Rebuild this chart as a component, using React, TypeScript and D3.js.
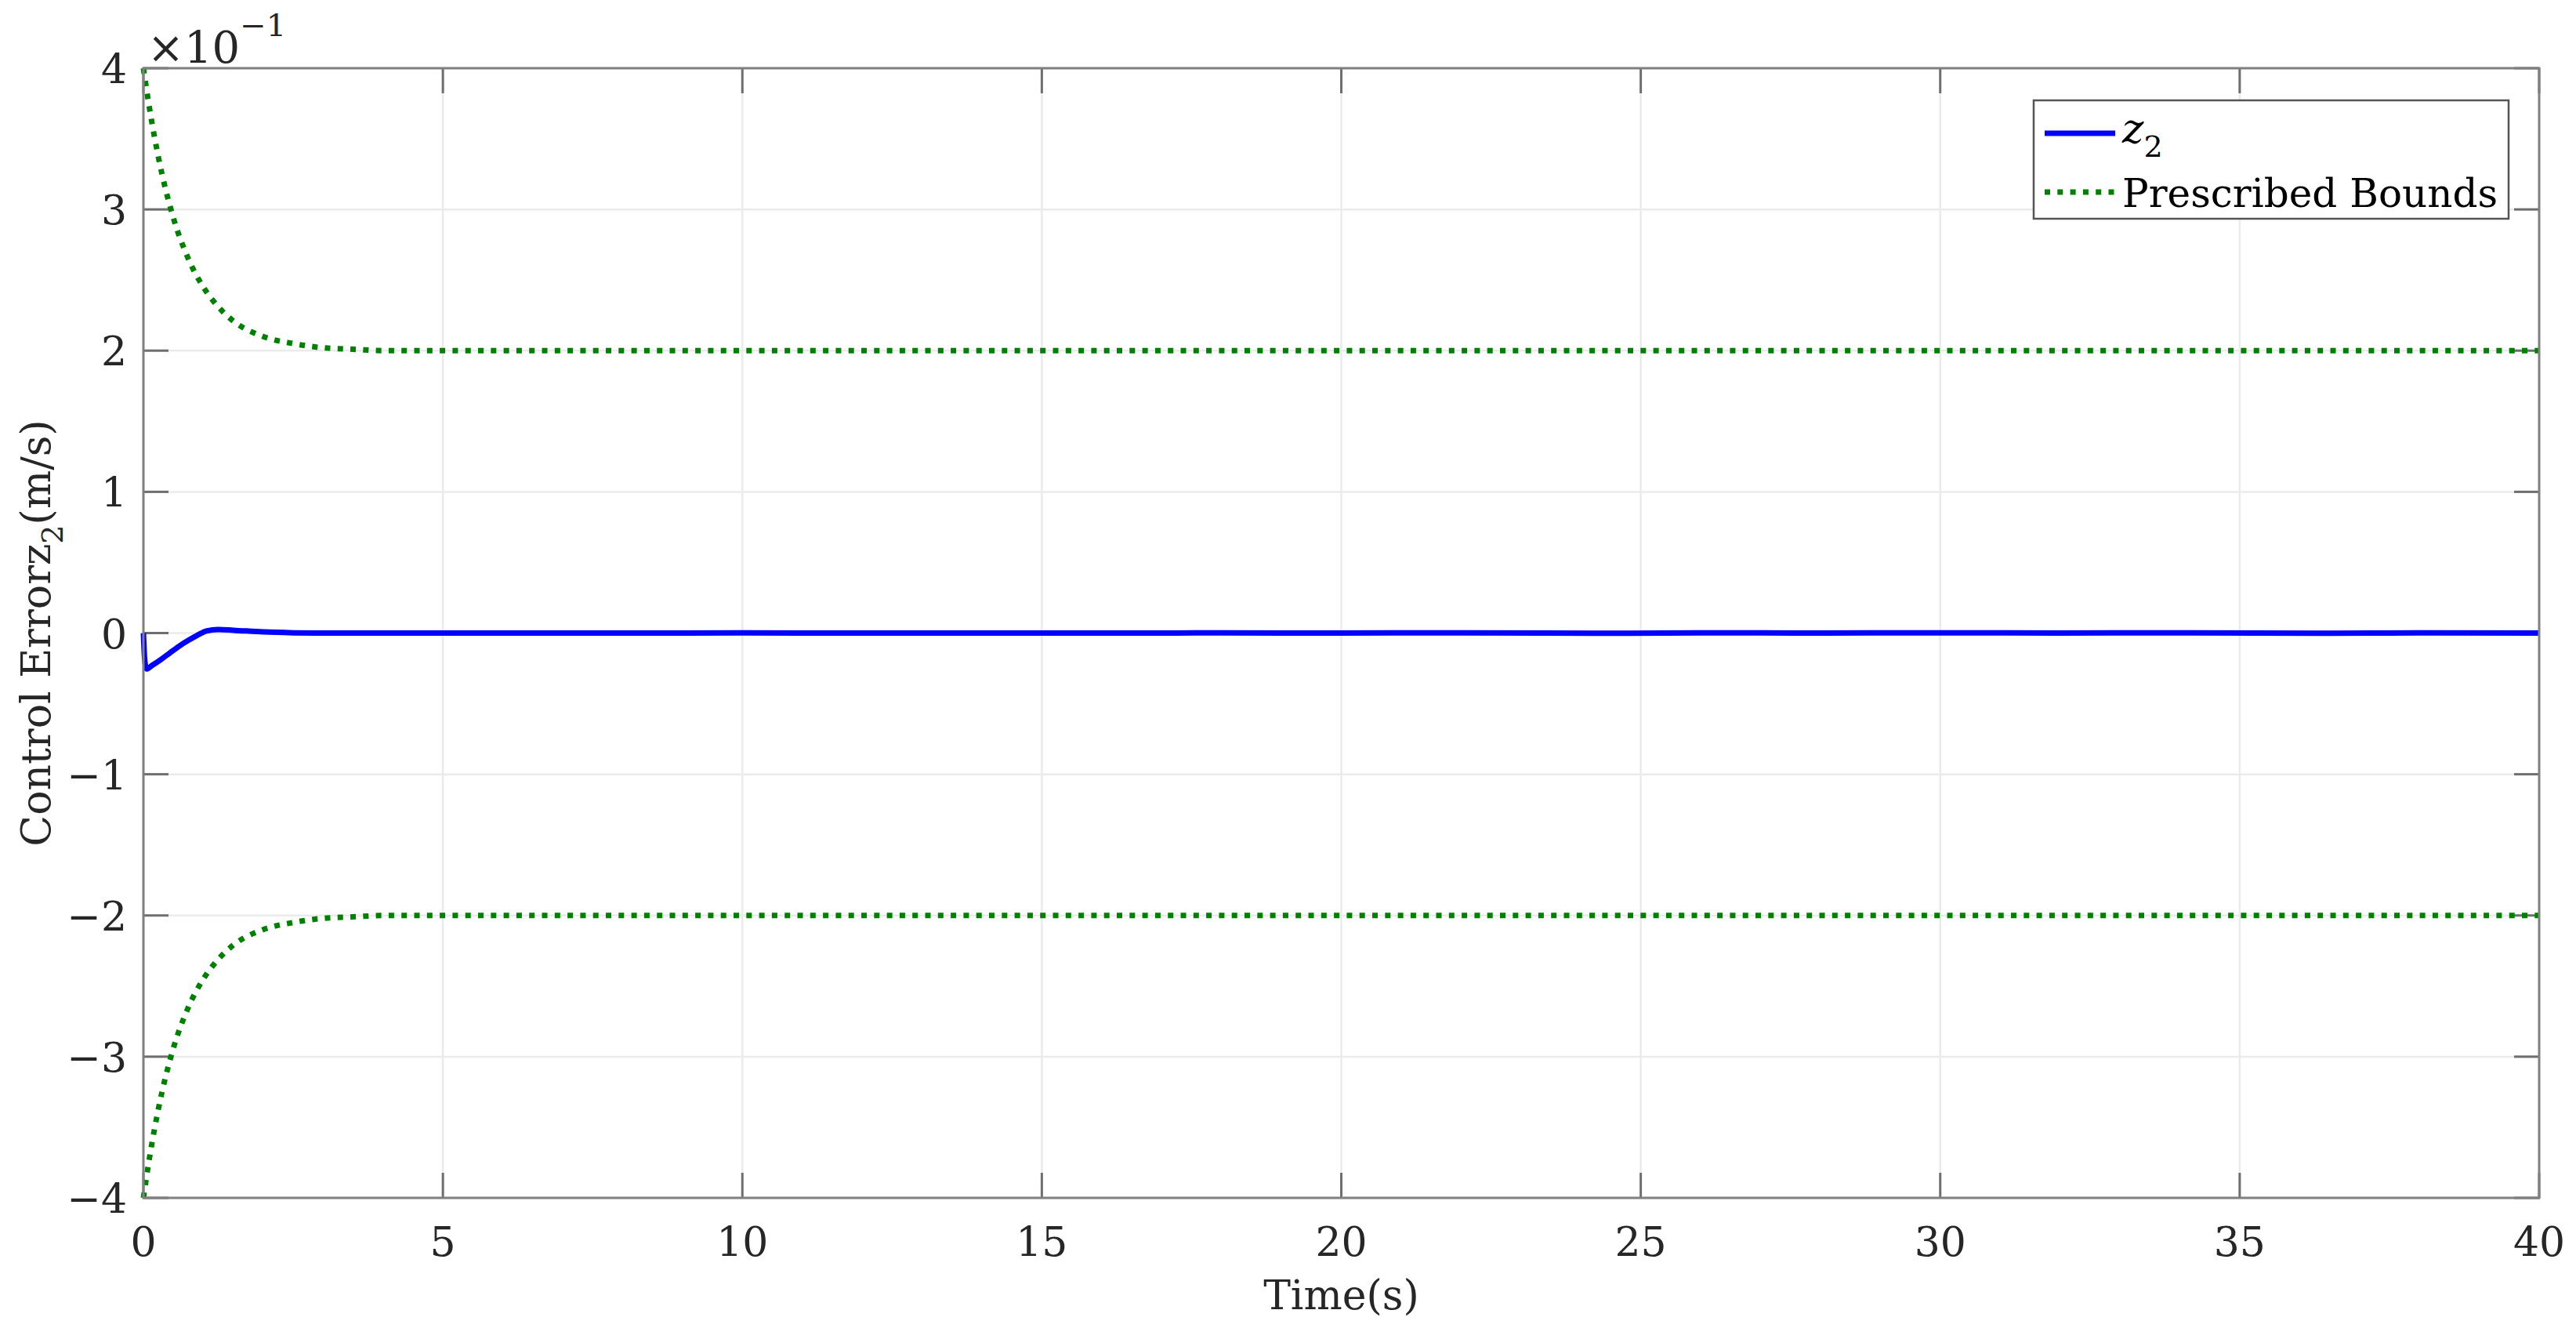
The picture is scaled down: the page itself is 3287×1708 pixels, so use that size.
import React from 'react';
import * as d3 from 'd3';

const z2Time = [0, 0.02, 0.05, 0.15, 0.3, 0.45, 0.6, 0.75, 0.9, 1.05, 1.25, 1.5, 2.0, 2.5, 3, 4, 6, 8, 10, 12, 14, 16, 18, 20, 22, 24.8, 26, 28, 30, 32, 34, 36.5, 38, 40];
const z2Value = [0, -0.018, -0.0254, -0.0228, -0.0185, -0.0138, -0.0092, -0.0052, -0.0016, 0.0015, 0.0025, 0.002, 0.0008, 0.0002, 0, 0, 0, 0, 0.0001, 0, 0, 0, 0.0001, 0, 0.0002, -0.0002, 0.0002, 0, 0.0002, 0, 0.0002, -0.0002, 0.0001, 0];

// prescribed bounds
const boundTime = [0, 0.1, 0.25, 0.5, 0.75, 1, 1.25, 1.5, 2, 2.5, 3, 3.5, 4, 5, 10, 20, 30, 40];
const upperBound = [0.4, 0.372, 0.337, 0.294, 0.265, 0.245, 0.231, 0.221, 0.21, 0.205, 0.202, 0.201, 0.2, 0.2, 0.2, 0.2, 0.2, 0.2];
const lowerBound = [-0.4, -0.372, -0.337, -0.294, -0.265, -0.245, -0.231, -0.221, -0.21, -0.205, -0.202, -0.201, -0.2, -0.2, -0.2, -0.2, -0.2, -0.2];

const xTicks = [0, 5, 10, 15, 20, 25, 30, 35, 40];
const yTicks = [-0.4, -0.3, -0.2, -0.1, 0, 0.1, 0.2, 0.3, 0.4];

const W = 3287;
const H = 1708;
const m = { left: 183, right: 3240, top: 87, bottom: 1528 };
const FONT = '"DejaVu Serif", "Liberation Serif", serif';
const FS = 52;
const TICK = 32;

const App = () => {
    const x = d3.scaleLinear().domain([0, 40]).range([m.left, m.right]);
    const y = d3.scaleLinear().domain([-0.4, 0.4]).range([m.bottom, m.top]);

    const line = d3.line<[number, number]>()
        .x(d => x(d[0]))
        .y(d => y(d[1]))
        .curve(d3.curveMonotoneX);

    const z2Path = line(z2Time.map((t, i) => [t, z2Value[i]]));
    const upPath = line(boundTime.map((t, i) => [t, upperBound[i]]));
    const lowPath = line(boundTime.map((t, i) => [t, lowerBound[i]]));

    const fmtY = (v: number) => {
        const n = Math.round(v * 10);
        return n < 0 ? '\u2212' + Math.abs(n) : String(n);
    };

    const dotted = { stroke: '#008000', strokeWidth: 7, strokeDasharray: '7 9.3', fill: 'none' };

    return (
        <div style={{ position: 'fixed', left: 0, top: 0 }}>
            <svg width={W} height={H} style={{ display: 'block', background: '#fff' }} fontFamily={FONT}>
                {/* grid */}
                {xTicks.map(t => (
                    <line key={'gx' + t} x1={x(t)} x2={x(t)} y1={m.top} y2={m.bottom} stroke="#ebebeb" strokeWidth={2.5} />
                ))}
                {yTicks.map(t => (
                    <line key={'gy' + t} x1={m.left} x2={m.right} y1={y(t)} y2={y(t)} stroke="#ebebeb" strokeWidth={2.5} />
                ))}

                {/* ticks on all sides, pointing in */}
                {xTicks.map(t => (
                    <g key={'tx' + t} stroke="#6e6e6e" strokeWidth={3}>
                        <line x1={x(t)} x2={x(t)} y1={m.bottom} y2={m.bottom - TICK} />
                        <line x1={x(t)} x2={x(t)} y1={m.top} y2={m.top + TICK} />
                    </g>
                ))}
                {yTicks.map(t => (
                    <g key={'ty' + t} stroke="#6e6e6e" strokeWidth={3}>
                        <line x1={m.left} x2={m.left + TICK} y1={y(t)} y2={y(t)} />
                        <line x1={m.right} x2={m.right - TICK} y1={y(t)} y2={y(t)} />
                    </g>
                ))}

                {/* data */}
                <path d={upPath || ''} {...dotted} />
                <path d={lowPath || ''} {...dotted} />
                <path d={z2Path || ''} fill="none" stroke="#0000ff" strokeWidth={7} strokeLinejoin="round" />

                {/* box */}
                <rect x={m.left} y={m.top} width={m.right - m.left} height={m.bottom - m.top} fill="none" stroke="#808080" strokeWidth={3} />

                {/* tick labels */}
                {xTicks.map(t => (
                    <text key={'lx' + t} x={x(t)} y={1602} textAnchor="middle" fontSize={FS} fill="#262626">{t}</text>
                ))}
                {yTicks.map(t => (
                    <text key={'ly' + t} x={162} y={y(t) + 19} textAnchor="end" fontSize={FS} fill="#262626">{fmtY(t)}</text>
                ))}

                {/* exponent */}
                <text x={188} y={80} fontSize={56} fill="#262626">
                    ×10<tspan dy={-34} fontSize={40}>{'\u2212'}1</tspan>
                </text>

                {/* axis labels */}
                <text x={(m.left + m.right) / 2} y={1670} textAnchor="middle" fontSize={FS} fill="#262626">Time(s)</text>
                <text transform={`translate(64, ${(m.top + m.bottom) / 2}) rotate(-90)`} textAnchor="middle" fontSize={FS} fill="#262626">
                    Control Errorz<tspan dy={16} fontSize={38}>2</tspan><tspan dy={-16}>(m/s)</tspan>
                </text>

                {/* legend */}
                <rect x={2595} y={128} width={606} height={151} fill="#fff" stroke="#555" strokeWidth={2.5} />
                <line x1={2609} x2={2699} y1={170} y2={170} stroke="#0000ff" strokeWidth={7} />
                <text x={2708} y={182} fontSize={FS} fill="#000">
                    <tspan fontStyle="italic">z</tspan><tspan dy={18} fontSize={38}>2</tspan>
                </text>
                <line x1={2609} x2={2699} y1={245} y2={245} {...dotted} />
                <text x={2708} y={264} fontSize={50} fill="#000">Prescribed Bounds</text>
            </svg>
        </div>
    );
};

export default App;
